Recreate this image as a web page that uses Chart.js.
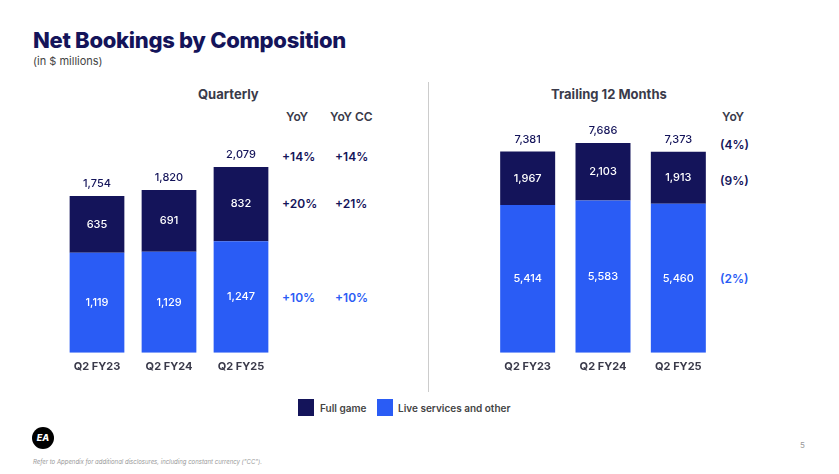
<!DOCTYPE html>
<html>
<head>
<meta charset="utf-8">
<script src="https://cdn.jsdelivr.net/npm/chart.js@4"></script>
<style>
  body { margin: 0; width: 839px; height: 474px; background: #fff; font-family: Inter, "Noto Sans", sans-serif; position: relative; overflow: hidden; color: #14145a; }
  .abs { position: absolute; }
  .navy { color: #14145a; }
  .blue { color: #2a5cf5; }
  .hdr { font-size: 13px; font-weight: 700; color: #3a3a4a; }
  .yoy { font-size: 12px; font-weight: 600; }
</style>
</head>
<body>
<div class="abs" style="left:33px;top:27px;font-size:22px;font-weight:800;letter-spacing:-0.3px">Net Bookings by Composition</div>
<div class="abs" style="left:33px;top:54px;font-size:11px;color:#444">(in $ millions)</div>

<div class="abs hdr" style="left:198px;top:86px">Quarterly</div>
<div class="abs hdr" style="left:551px;top:86px">Trailing 12 Months</div>
<div class="abs" style="left:428px;top:82px;width:1px;height:310px;background:#ccc"></div>

<div class="abs yoy" style="left:286px;top:109px;color:#3a3a4a">YoY</div>
<div class="abs yoy" style="left:330px;top:109px;color:#3a3a4a">YoY CC</div>
<div class="abs yoy navy" style="left:282px;top:149px">+14%</div>
<div class="abs yoy navy" style="left:335px;top:149px">+14%</div>
<div class="abs yoy navy" style="left:282px;top:196px">+20%</div>
<div class="abs yoy navy" style="left:335px;top:196px">+21%</div>
<div class="abs yoy blue" style="left:282px;top:290px">+10%</div>
<div class="abs yoy blue" style="left:335px;top:290px">+10%</div>

<div class="abs yoy" style="left:722px;top:109px;color:#3a3a4a">YoY</div>
<div class="abs yoy navy" style="left:720px;top:137px">(4%)</div>
<div class="abs yoy navy" style="left:720px;top:173px">(9%)</div>
<div class="abs yoy blue" style="left:720px;top:271px">(2%)</div>

<div class="abs" style="left:298px;top:399px;width:16px;height:17px;background:#14145a"></div>
<div class="abs" style="left:320px;top:402px;font-size:10px;font-weight:600;color:#444">Full game</div>
<div class="abs" style="left:377px;top:399px;width:16px;height:17px;background:#2a5cf5"></div>
<div class="abs" style="left:398px;top:402px;font-size:10px;font-weight:600;color:#444">Live services and other</div>

<div class="abs" style="left:32px;top:427px;width:22px;height:22px;border-radius:50%;background:#000;color:#fff;font-size:9px;font-weight:800;font-style:italic;text-align:center;line-height:22px">EA</div>
<div class="abs" style="left:33px;top:458px;font-size:6px;font-style:italic;color:#999">Refer to Appendix for additional disclosures, including constant currency ("CC").</div>
<div class="abs" style="left:800px;top:440px;font-size:8px;color:#999">5</div>

<div class="abs" style="left:61px;top:110px;width:216px;height:270px"><canvas id="q"></canvas></div>
<div class="abs" style="left:490px;top:110px;width:226px;height:270px"><canvas id="t"></canvas></div>

<script>
const categories = ["Q2 FY23", "Q2 FY24", "Q2 FY25"];
const qLive = [1119, 1129, 1247];
const qFull = [635, 691, 832];
const qTotal = [1754, 1820, 2079];
const tLive = [5414, 5583, 5460];
const tFull = [1967, 2103, 1913];
const tTotal = [7381, 7686, 7373];

const NAVY = "#14145a", BLUE = "#2a5cf5";

const labelPlugin = {
  id: "labels",
  afterDatasetsDraw(chart) {
    const ctx = chart.ctx;
    ctx.save();
    ctx.font = "500 11px Inter, sans-serif";
    ctx.textAlign = "center";
    ctx.textBaseline = "middle";
    chart.data.datasets.forEach((ds, i) => {
      chart.getDatasetMeta(i).data.forEach((bar, j) => {
        ctx.fillStyle = "#fff";
        ctx.fillText(ds.data[j].toLocaleString("en-US"), bar.x, (bar.y + bar.base) / 2);
      });
    });
    const top = chart.getDatasetMeta(1).data;
    const totals = chart.options.plugins.labels.totals;
    ctx.fillStyle = NAVY;
    top.forEach((bar, j) => ctx.fillText(totals[j].toLocaleString("en-US"), bar.x, bar.y - 12));
    ctx.restore();
  }
};

function makeChart(id, live, full, totals, max, barPct) {
  new Chart(document.getElementById(id), {
    type: "bar",
    data: {
      labels: categories,
      datasets: [
        { label: "Live services and other", data: live, backgroundColor: BLUE, barPercentage: barPct, categoryPercentage: 1 },
        { label: "Full game", data: full, backgroundColor: NAVY, barPercentage: barPct, categoryPercentage: 1 }
      ]
    },
    options: {
      animation: false,
      responsive: true,
      maintainAspectRatio: false,
      layout: { padding: { top: 30 } },
      plugins: { legend: { display: false }, tooltip: { enabled: false }, labels: { totals } },
      scales: {
        x: { stacked: true, grid: { display: false, drawTicks: false }, border: { display: false },
             ticks: { color: "#3a3a4a", font: { family: "Inter", size: 11, weight: "700" }, padding: 7 } },
        y: { stacked: true, display: false, min: 0, max }
      }
    },
    plugins: [labelPlugin]
  });
}

makeChart("q", qLive, qFull, qTotal, 2380, 0.76);
makeChart("t", tLive, tFull, tTotal, 7800, 0.73);
</script>
</body>
</html>
